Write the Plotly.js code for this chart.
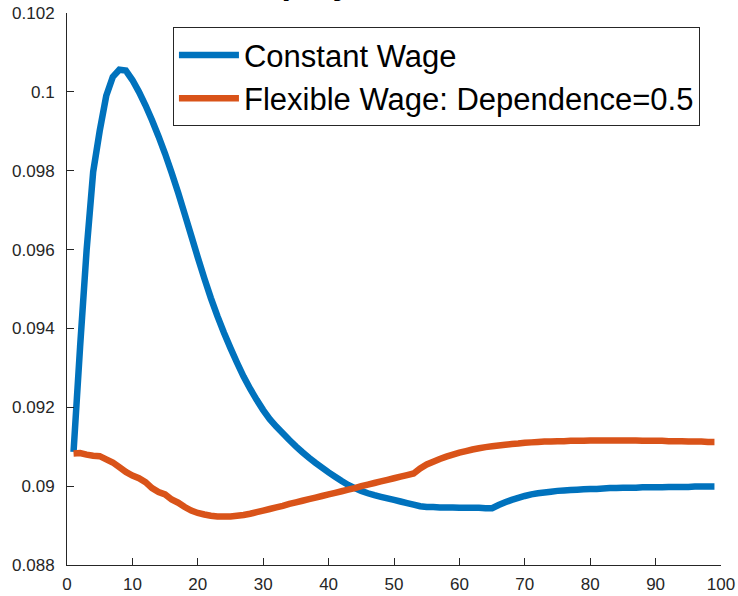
<!DOCTYPE html>
<html>
<head>
<meta charset="utf-8">
<script src="https://cdn.plot.ly/plotly-3.0.1.min.js"></script>
<style>
  html, body { margin: 0; padding: 0; background: #ffffff; }
  #chart { width: 738px; height: 596px; }
</style>
</head>
<body>
<div id="chart"></div>
<script>
// Periods 1..99
const periods = Array.from({length: 99}, (_, i) => i + 1);

const constantWage = [
  0.09087, 0.09353, 0.09599, 0.09797, 0.09901, 0.09990, 0.10038, 0.10056, 0.10054, 0.10030,
  0.10000, 0.09966, 0.09928, 0.09887, 0.09843, 0.09795, 0.09744, 0.09690, 0.09635, 0.09580,
  0.09527, 0.09477, 0.09431, 0.09389, 0.09350, 0.09313, 0.09278, 0.09247, 0.09219, 0.09193,
  0.09170, 0.09151, 0.09134, 0.09117, 0.09101, 0.09086, 0.09072, 0.09059, 0.09047, 0.09035,
  0.09024, 0.09013, 0.09003, 0.08995, 0.08988, 0.08982, 0.08977, 0.08973, 0.08969, 0.08965,
  0.08961, 0.08957, 0.08953, 0.08949, 0.08947, 0.08947, 0.08946, 0.08946, 0.08946, 0.08945,
  0.08945, 0.08945, 0.08945, 0.08944, 0.08944, 0.08952, 0.08959, 0.08965, 0.08970, 0.08975,
  0.08979, 0.08982, 0.08984, 0.08986, 0.08988, 0.08989, 0.08990, 0.08991, 0.08992, 0.08993,
  0.08993, 0.08994, 0.08995, 0.08995, 0.08996, 0.08996, 0.08996, 0.08997, 0.08997, 0.08997,
  0.08997, 0.08998, 0.08998, 0.08998, 0.08998, 0.08999, 0.08999, 0.08999, 0.08999
];

const flexibleWage = [
  0.09083, 0.09084, 0.09080, 0.09077, 0.09076, 0.09068, 0.09060, 0.09048, 0.09036, 0.09027,
  0.09020, 0.09010, 0.08995, 0.08985, 0.08979, 0.08966, 0.08958, 0.08947, 0.08938, 0.08932,
  0.08928, 0.08925, 0.08923, 0.08923, 0.08923, 0.08925, 0.08927, 0.08930, 0.08934, 0.08938,
  0.08942, 0.08946, 0.08950, 0.08955, 0.08959, 0.08963, 0.08967, 0.08971, 0.08975, 0.08979,
  0.08983, 0.08987, 0.08991, 0.08995, 0.09000, 0.09004, 0.09008, 0.09012, 0.09016, 0.09020,
  0.09024, 0.09028, 0.09032, 0.09045, 0.09055, 0.09062, 0.09069, 0.09075, 0.09080, 0.09085,
  0.09089, 0.09093, 0.09096, 0.09099, 0.09101, 0.09103, 0.09105, 0.09107, 0.09108, 0.09110,
  0.09111, 0.09112, 0.09113, 0.09113, 0.09114, 0.09114, 0.09115, 0.09115, 0.09115, 0.09116,
  0.09116, 0.09116, 0.09116, 0.09116, 0.09116, 0.09116, 0.09116, 0.09115, 0.09115, 0.09115,
  0.09115, 0.09114, 0.09114, 0.09114, 0.09113, 0.09113, 0.09113, 0.09112, 0.09112
];

const seriesNames = ["Constant Wage", "Flexible Wage: Dependence=0.5"];
const titleText = "Unemployment";

const xTickVals = [0, 10, 20, 30, 40, 50, 60, 70, 80, 90, 100];
const xTickText = ["0", "10", "20", "30", "40", "50", "60", "70", "80", "90", "100"];
const yTickVals = [0.088, 0.090, 0.092, 0.094, 0.096, 0.098, 0.100, 0.102];
const yTickText = ["0.088", "0.09", "0.092", "0.094", "0.096", "0.098", "0.1", "0.102"];

const FONT = "Liberation Sans, Arial, Helvetica, sans-serif";
const AXC = "#262626";

const traces = [
  {
    x: periods, y: constantWage, name: seriesNames[0], type: "scatter", mode: "lines",
    line: {color: "#0072BD", width: 6.5, simplify: false}
  },
  {
    x: periods, y: flexibleWage, name: seriesNames[1], type: "scatter", mode: "lines",
    line: {color: "#D95319", width: 6.5, simplify: false}
  }
];

const layout = {
  width: 738, height: 596,
  margin: {l: 67, r: 17, t: 13, b: 31, pad: 0},
  paper_bgcolor: "#ffffff", plot_bgcolor: "#ffffff",
  font: {family: FONT, color: AXC, size: 17},
  showlegend: true,
  legend: {
    x: 0.162, xanchor: "left", y: 0.974, yanchor: "top",
    bgcolor: "#ffffff", bordercolor: AXC, borderwidth: 1,
    font: {family: FONT, size: 31, color: "#000000"},
    itemwidth: 60, tracegroupgap: 0
  },
  xaxis: {
    range: [0, 100], tickmode: "array", tickvals: xTickVals, ticktext: xTickText,
    ticks: "inside", ticklen: 7, tickwidth: 1, tickcolor: AXC,
    showline: true, linecolor: AXC, linewidth: 1, mirror: false,
    showgrid: false, zeroline: false, ticklabelstandoff: 4,
    tickfont: {family: FONT, size: 17, color: AXC}
  },
  yaxis: {
    range: [0.088, 0.102], tickmode: "array", tickvals: yTickVals, ticktext: yTickText,
    ticks: "inside", ticklen: 7, tickwidth: 1, tickcolor: AXC,
    showline: true, linecolor: AXC, linewidth: 1, mirror: false,
    showgrid: false, zeroline: false, ticklabelstandoff: 8,
    tickfont: {family: FONT, size: 17, color: AXC}
  },
  annotations: [
    {
      text: "<b>" + titleText + "</b>", xref: "paper", yref: "paper",
      x: (184.6 - 67) / 654, xanchor: "left", y: 1.0181, yanchor: "bottom",
      showarrow: false, font: {family: FONT, size: 34, color: "#000000"}
    }
  ]
};

Plotly.newPlot("chart", traces, layout, {displayModeBar: false, staticPlot: true});
</script>
</body>
</html>
